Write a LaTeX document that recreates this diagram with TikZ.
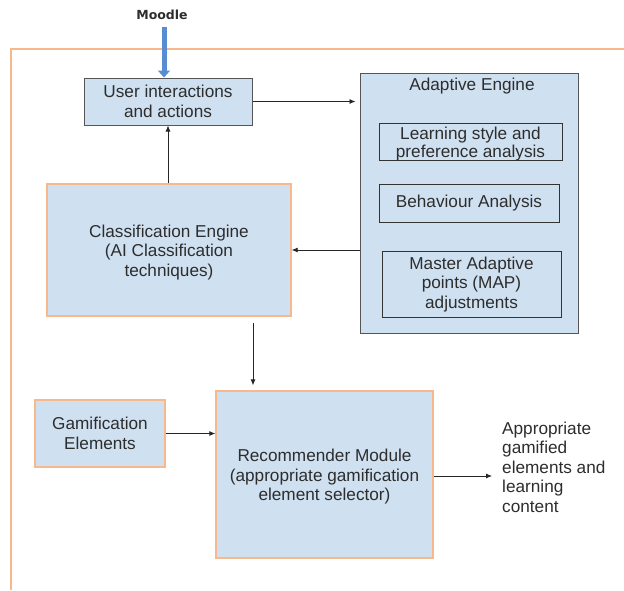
\documentclass[tikz,border=0pt]{standalone}
\usepackage{fontspec}
\setmainfont{Liberation Sans}
\newfontfamily\moodlefont{DejaVu Sans}
\usetikzlibrary{arrows.meta}
\definecolor{boxfill}{RGB}{207,224,241}
\definecolor{orangeline}{RGB}{247,185,140}
\definecolor{grayline}{RGB}{85,85,85}
\definecolor{txt}{RGB}{45,45,45}
\definecolor{moodleblue}{RGB}{90,140,210}
\tikzset{
  box/.style={draw, fill=boxfill, line width=1pt, inner sep=0pt, align=center,
    text=txt, font=\fontsize{17.2}{19.5}\selectfont},
  obox/.style={box, draw=orangeline, line width=1.3pt},
  gbox/.style={box, draw=grayline},
  inbox/.style={draw=black!80, line width=0.9pt, inner sep=0pt, align=center,
    text=txt, font=\fontsize{17.2}{18}\selectfont},
  conn/.style={draw=black!85, line width=0.8pt, -{Latex[length=6pt,width=5pt]}},
}
\begin{document}
\begin{tikzpicture}[x=1pt,y=-1pt]
\useasboundingbox (0,0) rectangle (624,590);
% outer frame (top and left)
\draw[orangeline, line width=1.3pt] (624,49) -- (11,49) -- (11,590);
% Moodle
\node[font=\moodlefont\bfseries\fontsize{12.5}{14}\selectfont, text=txt] (moodle) at (162,15) {Moodle};
% boxes
\node[gbox, minimum width=168pt, minimum height=47pt] (user) at (168,101.5) {User interactions\\and actions};
\node[gbox, minimum width=218pt, minimum height=260pt] (adapt) at (469,203) {};
\node[text=txt, font=\fontsize{17.2}{19.5}\selectfont] (adtitle) at (472,86) {Adaptive Engine};
\node[inbox, minimum width=183pt, minimum height=37pt] (learn) at (470.5,141.5) {};
\node[text=txt, align=center, font=\fontsize{17.2}{18}\selectfont, inner sep=0pt] (learntxt) at (470.5,144.5) {Learning style and\\preference analysis};
\node[inbox, minimum width=180pt, minimum height=38pt] (behav) at (469,203) {Behaviour Analysis};
\node[inbox, minimum width=179pt, minimum height=66pt, font=\fontsize{17.2}{19.5}\selectfont] (master) at (471.5,284.5) {Master Adaptive\\points (MAP)\\adjustments};
\node[obox, minimum width=244pt, minimum height=132pt] (class) at (169,250) {};
\node[text=txt, align=center, font=\fontsize{17.2}{19.5}\selectfont, inner sep=0pt] (classtxt) at (169,252.5) {Classification Engine\\(AI Classification\\techniques)};
\node[obox, minimum width=130pt, minimum height=67pt] (gam) at (100,433.5) {Gamification\\Elements};
\node[obox, minimum width=217pt, minimum height=167pt] (rec) at (324.5,474.5) {};
\node[text=txt, align=center, font=\fontsize{17.2}{19.5}\selectfont, inner sep=0pt] (rectxt) at (324.5,477) {Recommender Module\\(appropriate gamification\\element selector)};
\node[anchor=west, align=left, text=txt, font=\fontsize{17.2}{19.5}\selectfont, inner sep=0pt] (out) at (502,467) {Appropriate\\gamified\\elements and\\learning\\content};
% Moodle arrow
\coordinate (mtop) at (164,27);
\draw[moodleblue, line width=5pt, -{Triangle[length=7pt,width=12pt]}] (mtop) -- (mtop |- user.north);
% connectors
\draw[conn, shorten >=4pt] (user.east) -- (user.east -| adapt.west);
\draw[conn] (adapt.west |- class.east) -- (class.east);
\draw[conn] (class.north -| 168,0) -- (user.south -| 168,0);
\coordinate (cdown) at (253,0);
\draw[conn, shorten <=6pt, shorten >=5pt] (class.south -| cdown) -- (rec.north -| cdown);
\draw[conn] (gam.east) -- (gam.east -| rec.west);
\coordinate (outend) at (492,476);
\draw[conn] (rec.east |- outend) -- (outend);
\end{tikzpicture}
\end{document}
